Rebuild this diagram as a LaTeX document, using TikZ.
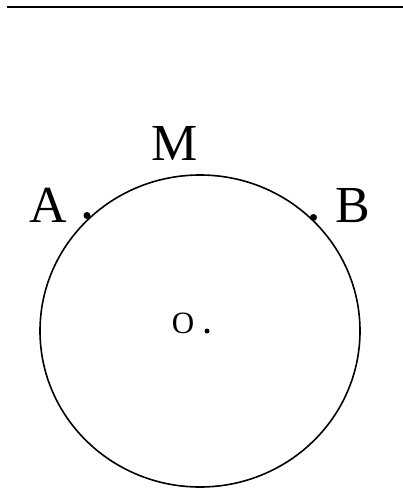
\documentclass[tikz,border=0pt]{standalone}
\usepackage{fontspec}
\usetikzlibrary{shapes.geometric}
\setmainfont{Liberation Serif}
\begin{document}
\begin{tikzpicture}[x=1pt,y=-1pt,
  lbl/.style={inner sep=0pt,font=\fontsize{52}{60}\selectfont},
  olbl/.style={inner sep=0pt,font=\fontsize{31}{36}\selectfont},
  pt/.style={fill=black,circle,inner sep=0pt,minimum size=7pt}]
\useasboundingbox (0,0) rectangle (403,490);
\coordinate (L1) at (7,7);
\coordinate (L2) at (403,7);
\draw[line width=1.8pt] (L1) -- (L2);
\node[draw,ellipse,line width=1.6pt,minimum width=320pt,minimum height=312pt,inner sep=0pt] (C) at (200,331) {};
\node[pt] (A) at (87,215.5) {};
\node[pt] (B) at (313.5,217.5) {};
\node[lbl,anchor=base] (lA) at (48,222) {A};
\node[lbl,anchor=base] (lM) at (174.5,160) {M};
\node[lbl,anchor=base] (lB) at (352.5,222) {B};
\node[olbl,anchor=base] (lO) at (183,333) {O};
\node[fill=black,circle,inner sep=0pt,minimum size=5pt] (Od) at (207,331) {};
\end{tikzpicture}
\end{document}
